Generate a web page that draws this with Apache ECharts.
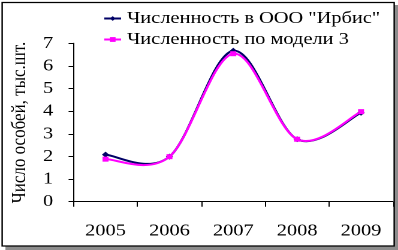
<!DOCTYPE html>
<html><head><meta charset="utf-8">
<script src="https://cdn.jsdelivr.net/npm/echarts@6/dist/echarts.min.js"></script>
<style>html,body{margin:0;padding:0;background:#fff;overflow:hidden;width:398px;height:250px}
#c{width:332px;height:250px;transform:scaleX(1.1988);transform-origin:0 0}</style>
</head><body><div id="c"></div>
<script>
const years = ['2005','2006','2007','2008','2009'];
const actual = [2.08, 1.99, 6.67, 2.76, 3.93];
const model3 = [1.88, 1.99, 6.54, 2.76, 3.98];
const yTicks = [0,1,2,3,4,5,6,7];
const seriesNames = ['Численность в ООО "Ирбис"', 'Численность по модели 3'];
const colors = ['#000066', '#ff00ff'];

const font = 'Liberation Serif, Times New Roman, serif';

// Excel-like smoothed curve, computed from data coordinates via the axes
function curveSeries(values, color, z) {
  return {
    type: 'custom', z: z, silent: true,
    data: values.map((v, i) => [i, v]),
    renderItem: function (params, api) {
      const i = params.dataIndex, n = values.length;
      if (i >= n - 1) return null;
      const P = k => { k = Math.max(0, Math.min(n - 1, k)); return api.coord([k, values[k]]); };
      const p0 = P(i - 1), p1 = P(i), p2 = P(i + 1), p3 = P(i + 2);
      return {
        type: 'bezierCurve',
        shape: {
          x1: p1[0], y1: p1[1], x2: p2[0], y2: p2[1],
          cpx1: p1[0] + (p2[0] - p0[0]) / 6, cpy1: p1[1] + (p2[1] - p0[1]) / 6,
          cpx2: p2[0] - (p3[0] - p1[0]) / 6, cpy2: p2[1] - (p3[1] - p1[1]) / 6
        },
        style: {stroke: color, lineWidth: 2, fill: null}
      };
    }
  };
}

const chart = echarts.init(document.getElementById('c'), null, {renderer: 'canvas', devicePixelRatio: 2});
chart.setOption({
  animation: false,
  textStyle: {fontFamily: font},
  graphic: [
    {type:'rect', shape:{x:4.5, y:5, width:327.5, height:245}, style:{fill:'#8c8c8c', stroke:null}, z:-2},
    {type:'rect', shape:{x:1.8, y:2.5, width:327, height:243.5}, style:{fill:'#fff', stroke:'#000', lineWidth:1.2}, z:-1}
  ],
  legend: {
    orient: 'vertical', left: 81, top: 5, itemGap: 4,
    itemWidth: 14, itemHeight: 6,
    formatter: '{t|{name}}',
    textStyle: {
      fontFamily: font, fontSize: 17, color: '#000',
      rich: {t: {fontFamily: font, fontSize: 17, color: '#000'}}
    },
    lineStyle: {width: 2, opacity: 1},
    data: seriesNames
  },
  grid: {left: 53.4, top: 43.3, right: 4.2, bottom: 48.3},
  xAxis: {
    type: 'category', data: years, boundaryGap: true,
    axisLine: {lineStyle: {color: '#000'}},
    axisTick: {show: true, length: 5, lineStyle: {color:'#000'}},
    axisLabel: {fontFamily: font, fontSize: 17, color: '#000', margin: 21}
  },
  yAxis: {
    type: 'value', min: yTicks[0], max: yTicks[yTicks.length-1], interval: 1,
    name: 'Число особей, тыс.шт.', nameLocation: 'middle', nameGap: 35,
    nameTextStyle: {fontFamily: font, fontSize: 17, color: '#000'},
    axisLine: {show: true, lineStyle: {color: '#000'}},
    axisTick: {show: true, length: 4.2, lineStyle: {color:'#000'}},
    splitLine: {show: false},
    axisLabel: {fontFamily: font, fontSize: 17, color: '#000', margin: 17}
  },
  series: [
    curveSeries(actual, colors[0], 2),
    curveSeries(model3, colors[1], 2),
    {name: seriesNames[0], type: 'line', data: actual, z: 3,
     symbol: 'diamond', symbolSize: 6,
     lineStyle: {color: colors[0], width: 2, opacity: 0}, itemStyle: {color: colors[0]}},
    {name: seriesNames[1], type: 'line', data: model3, z: 3,
     symbol: 'rect', symbolSize: 5,
     lineStyle: {color: colors[1], width: 2, opacity: 0}, itemStyle: {color: colors[1]}}
  ]
});
</script></body></html>
